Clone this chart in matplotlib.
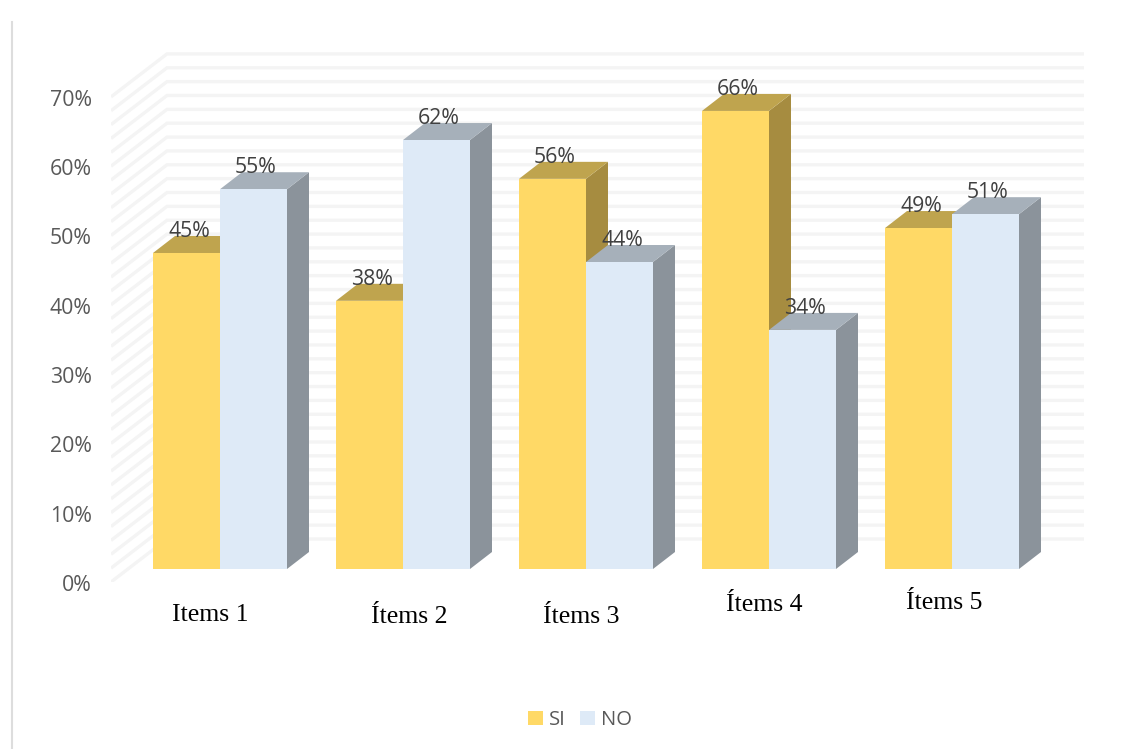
import numpy as np
import matplotlib
matplotlib.use('Agg')
import matplotlib.pyplot as plt
from matplotlib.transforms import ScaledTranslation

# data
categories = ['Items 1', 'Ítems 2', 'Ítems 3', 'Ítems 4', 'Ítems 5']
si_labels = ['45%', '38%', '56%', '66%', '49%']
no_labels = ['55%', '62%', '44%', '34%', '51%']
si_heights = [45.6, 38.7, 56.3, 66.1, 49.2]
no_heights = [54.8, 61.9, 44.3, 34.5, 51.2]
y_ticks = [0, 10, 20, 30, 40, 50, 60, 70]

# hand placed category labels in the original, in pixels
cat_px = [(210, 615), (409, 617), (581, 617), (764, 605), (944, 603)]

W, H = 1134, 749
px_x = 183.0      # pixels per category
px_y = 6.93       # pixels per percent
bar_w = 67 / px_x
floor = 13 / px_y       # bars stand a bit behind the front edge of the floor
bar_dx, bar_dy = 22 / px_x, 17 / px_y
wall_dx, wall_dy = 56 / px_x, 43 / px_y

YELLOW = ('#FFD966', '#BFA44E', '#A68C40')
BLUE = ('#DEEAF7', '#A6B0BA', '#8B939B')


def draw_bar(ax, x, h, cols, label):
    left, right = x, x + bar_w
    top = floor + h
    ax.fill([right, right + bar_dx, right + bar_dx, right],
            [floor, floor + bar_dy, top + bar_dy, top], color=cols[2], lw=0, zorder=3)
    ax.fill([left, right, right + bar_dx, left + bar_dx],
            [top, top, top + bar_dy, top + bar_dy], color=cols[1], lw=0, zorder=3)
    ax.bar(x, h, bar_w, bottom=floor, align='edge', color=cols[0], lw=0, zorder=3, label=label)


plt.rcParams['font.family'] = ['Open Sans', 'DejaVu Sans']
fig = plt.figure(figsize=(W / 100, H / 100), dpi=100)
ax = fig.add_axes([111 / W, (H - 582) / H, (1084 - 111) / W, 532 / H])
ax.set_xlim((111 - 220) / px_x, (1084 - 220) / px_x)
ax.set_ylim(0, 532 / px_y)
for s in ax.spines.values():
    s.set_visible(False)

# back and side wall lines
x0 = ax.get_xlim()[0]
x1 = ax.get_xlim()[1]
for v in np.arange(0, 72, 2):
    ax.plot([x0, x0 + wall_dx, x1], [v, v + wall_dy, v + wall_dy],
            color='#F4F4F4', lw=2.4, zorder=1, solid_capstyle='butt', solid_joinstyle='miter')

for i in range(len(categories)):
    draw_bar(ax, i - bar_w, si_heights[i], YELLOW, 'SI' if i == 0 else None)
    draw_bar(ax, i, no_heights[i], BLUE, 'NO' if i == 0 else None)
    ax.text(i - bar_w / 2 + 2.5 / px_x, floor + si_heights[i] + 21.5 / px_y, si_labels[i],
            ha='center', va='center', fontsize=15.3, color='#404040', zorder=5)
    ax.text(i + bar_w / 2 + 2.5 / px_x, floor + no_heights[i] + 21.5 / px_y, no_labels[i],
            ha='center', va='center', fontsize=15.3, color='#404040', zorder=5)

ax.set_xticks([])
ax.set_yticks(y_ticks)
ax.set_yticklabels([str(t) + '%' for t in y_ticks])
ax.tick_params(axis='y', length=0, pad=14, labelsize=15.3, labelcolor='#595959')
nudge = ScaledTranslation(0, -1 / 100, fig.dpi_scale_trans)
for t in ax.get_yticklabels():
    t.set_transform(t.get_transform() + nudge)

for name, (px, py) in zip(categories, cat_px):
    fig.text(px / W, 1 - py / H, name, ha='center', va='center', fontsize=18.5,
             family='Liberation Serif', color='#000000')

ax.legend(loc='center', bbox_to_anchor=(580 / W, 1 - 720 / H), bbox_transform=fig.transFigure,
          ncol=2, frameon=False, fontsize=14.6, labelcolor='#595959', handlelength=0.72,
          handleheight=0.72, handletextpad=0.3, columnspacing=0.72, borderpad=0)

# thin frame line on the left of the picture
fig.add_artist(plt.Line2D([11.5 / W, 11.5 / W], [0, 1 - 22 / H], color='#DDDDDD', lw=1.5))

fig.savefig('out.png', dpi=100)
